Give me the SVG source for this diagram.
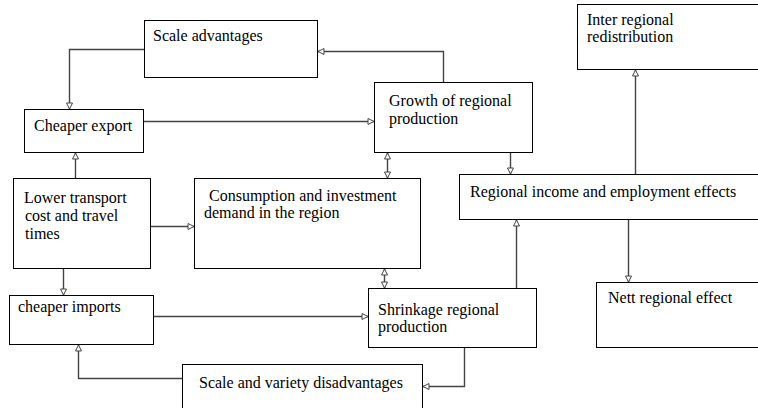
<svg xmlns="http://www.w3.org/2000/svg" width="758" height="408" viewBox="0 0 758 408">
<style>
.box{fill:#fff;stroke:#000;stroke-width:1}
.t{font-family:"Liberation Serif","Times New Roman","DejaVu Serif",serif;font-size:16px;fill:#000}
.c{fill:none;stroke:#444;stroke-width:1.4}
.ce{marker-end:url(#ah)}
.cb{marker-start:url(#ah);marker-end:url(#ah)}
</style>
<defs>
<marker id="ah" markerUnits="userSpaceOnUse" markerWidth="8" markerHeight="8" refX="6" refY="3" orient="auto-start-reverse" viewBox="-1 -1 8 8">
<path d="M0,0 L6,3 L0,6 Z" fill="#fff" stroke="#444" stroke-width="1"/>
</marker>
</defs>
<rect width="758" height="408" fill="#fff"/>
<g id="scale"><rect class="box" x="144.5" y="20.5" width="173" height="57"/><text class="t" x="153" y="41">Scale advantages</text></g>
<g id="export"><rect class="box" x="24.5" y="109.5" width="119" height="43"/><text class="t" x="34" y="131">Cheaper export</text></g>
<g id="growth"><rect class="box" x="374.5" y="82.5" width="158" height="70"/><text class="t" x="389" y="106">Growth of regional</text><text class="t" x="389" y="124">production</text></g>
<g id="inter"><rect class="box" x="577.5" y="4.5" width="200" height="65"/><text class="t" x="587" y="25">Inter regional</text><text class="t" x="587" y="42">redistribution</text></g>
<g id="income"><rect class="box" x="459.5" y="174.5" width="320" height="45"/><text class="t" x="470" y="197">Regional income and employment effects</text></g>
<g id="consumption"><rect class="box" x="194.5" y="178.5" width="226" height="90"/><text class="t" x="209" y="201">Consumption and investment</text><text class="t" x="204" y="218">demand in the region</text></g>
<g id="lower"><rect class="box" x="13.5" y="178.5" width="137" height="90"/><text class="t" x="24" y="203">Lower transport</text><text class="t" x="25" y="221">cost and travel</text><text class="t" x="25" y="239">times</text></g>
<g id="imports"><rect class="box" x="9.5" y="295.5" width="144" height="49"/><text class="t" x="18" y="312">cheaper imports</text></g>
<g id="shrinkage"><rect class="box" x="368.5" y="288.5" width="168" height="59"/><text class="t" x="378" y="315">Shrinkage regional</text><text class="t" x="378" y="332">production</text></g>
<g id="nett"><rect class="box" x="596.5" y="282.5" width="180" height="65"/><text class="t" x="608" y="303">Nett regional effect</text></g>
<g id="scalevar"><rect class="box" x="182.5" y="364.5" width="240" height="60"/><text class="t" x="199" y="388">Scale and variety disadvantages</text></g>
<g id="connectors">
<path class="c ce" d="M144,49.5 H69.5 V109"/>
<path class="c ce" d="M443.5,82 V51.5 H318"/>
<path class="c ce" d="M144,121.5 H374"/>
<path class="c ce" d="M75.5,178 V153"/>
<path class="c ce" d="M151,226.5 H194"/>
<path class="c ce" d="M63.5,269 V295"/>
<path class="c cb" d="M387.5,153 V178"/>
<path class="c cb" d="M384.5,269 V288"/>
<path class="c ce" d="M510.5,153 V174"/>
<path class="c ce" d="M635.5,174 V70"/>
<path class="c ce" d="M628.5,220 V282"/>
<path class="c ce" d="M154,316.5 H368"/>
<path class="c ce" d="M516.5,288 V220"/>
<path class="c ce" d="M464.5,348 V386.5 H423"/>
<path class="c ce" d="M182,378.5 H78.5 V345"/>
</g>
</svg>
